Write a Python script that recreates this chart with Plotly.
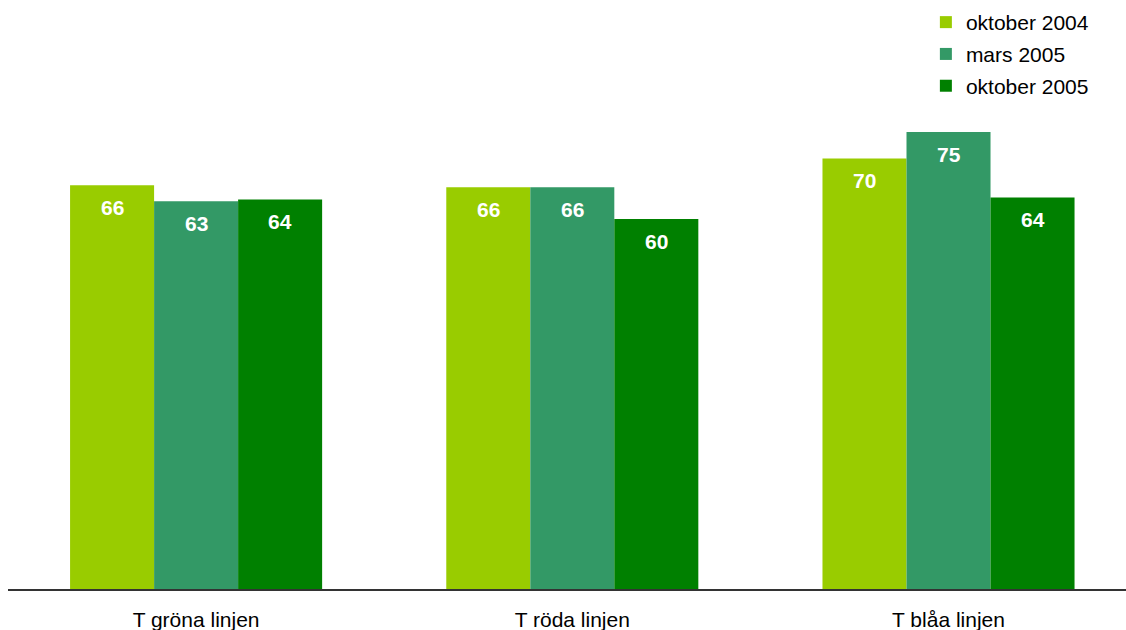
import plotly.graph_objects as go

categories = ["T gröna linjen", "T röda linjen", "T blåa linjen"]
series_names = ["oktober 2004", "mars 2005", "oktober 2005"]
okt2004 = [65.9, 65.6, 70.3]
mars2005 = [63.3, 65.6, 74.6]
okt2005 = [63.6, 60.4, 63.9]
colors = ["#99CC00", "#339966", "#008000"]

series = [okt2004, mars2005, okt2005]
FONT = "Liberation Sans, Arial, sans-serif"

fig = go.Figure()
for i, (name, vals) in enumerate(zip(series_names, series)):
    fig.add_trace(go.Bar(
        x=categories, y=vals, name=name,
        marker=dict(color=colors[i], line=dict(width=0)),
        legendgroup=f"g{i}",
        hoverinfo="skip",
    ))

offsets = [-84, 0, 84]
for i, vals in enumerate(series):
    for j, v in enumerate(vals):
        fig.add_annotation(
            x=categories[j], y=v, xref="x", yref="y",
            text=f"<b>{round(v)}</b>", showarrow=False,
            xshift=offsets[i], yshift=-22, yanchor="middle",
            font=dict(family=FONT, size=21, color="white"),
        )

fig.update_layout(
    width=1126, height=630,
    margin=dict(l=8, r=0, t=99, b=41),
    paper_bgcolor="white", plot_bgcolor="white",
    barmode="group", bargap=0.33, bargroupgap=0,
    font=dict(family=FONT, size=21, color="#000000"),
    showlegend=True,
    legend=dict(
        x=0.821, y=1.198, xanchor="left", yanchor="top",
        xref="paper", yref="paper",
        font=dict(family=FONT, size=21, color="#000000"),
        tracegroupgap=1.5, bgcolor="rgba(0,0,0,0)", borderwidth=0,
        traceorder="grouped",
    ),
    xaxis=dict(
        range=[-0.5, 2.4718], showline=True, linecolor="#333333", linewidth=1.5,
        ticks="", showgrid=False, zeroline=False,
        ticklabelstandoff=11,
        tickfont=dict(family=FONT, size=21, color="#000000"),
        fixedrange=True,
    ),
    yaxis=dict(
        range=[0, 80], visible=False, showgrid=False, zeroline=False,
        fixedrange=True,
    ),
)

fig.write_html("out.html")
